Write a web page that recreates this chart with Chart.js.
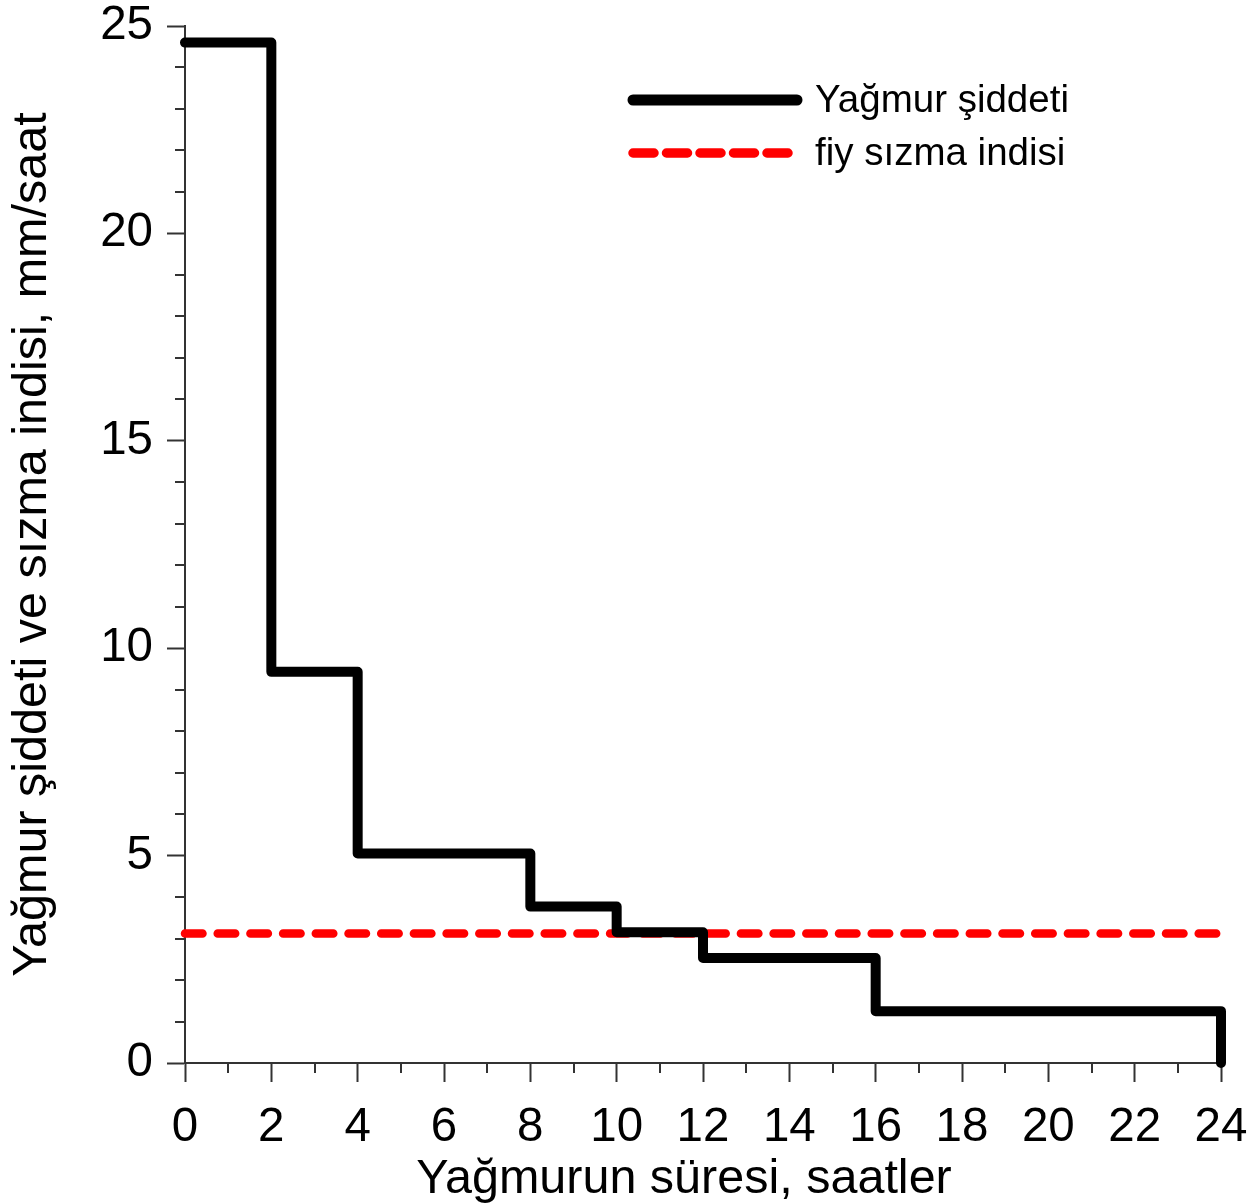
<!DOCTYPE html>
<html>
<head>
<meta charset="utf-8">
<script src="https://cdn.jsdelivr.net/npm/chart.js@4.4.1/dist/chart.umd.min.js"></script>
<style>
html,body{margin:0;padding:0;background:#fff;}
#wrap{width:1259px;height:1204px;position:relative;}
canvas{display:block;}
</style>
</head>
<body>
<div id="wrap"><canvas id="c" width="1259" height="1204"></canvas></div>
<script>
// ---- data ----
const hourStarts = [0, 2, 4, 8, 10, 12, 16, 24];
const rainIntensity = [24.6, 9.43, 5.05, 3.77, 3.15, 2.53, 1.25, 0];
const phiHours = [0, 24];
const phiIndex = [3.12, 3.12];
const seriesLabels = ['Yağmur şiddeti', 'fiy sızma indisi'];
const xAxisTitle = 'Yağmurun süresi, saatler';
const yAxisTitle = 'Yağmur şiddeti ve sızma indisi, mm/saat';
const xRange = [0, 24];
const yRange = [0, 25];
const xMajorStep = 2, xMinorStep = 1;
const yMajorStep = 5, yMinorStep = 1;

// ---- styling ----
const FONT = "'Liberation Sans', Arial, sans-serif";
const AXIS = '#333333';

const rainPts = hourStarts.map((x, i) => ({x, y: rainIntensity[i]}));
const phiPts = phiHours.map((x, i) => ({x, y: phiIndex[i]}));

const minorTicks = {
  id: 'minorTicks',
  afterDraw(chart) {
    const ctx = chart.ctx;
    const xs = chart.scales.x, ys = chart.scales.y;
    ctx.save();
    ctx.strokeStyle = AXIS;
    ctx.lineWidth = 2;
    for (let v = xs.min; v <= xs.max + 1e-9; v += xMinorStep) {
      if (Math.abs(v % xMajorStep) < 1e-9) continue;
      const px = Math.round(xs.getPixelForValue(v));
      ctx.beginPath(); ctx.moveTo(px, xs.top); ctx.lineTo(px, xs.top + 10); ctx.stroke();
    }
    for (let v = ys.min; v <= ys.max + 1e-9; v += yMinorStep) {
      if (Math.abs(v % yMajorStep) < 1e-9) continue;
      const py = Math.round(ys.getPixelForValue(v));
      ctx.beginPath(); ctx.moveTo(ys.right, py); ctx.lineTo(ys.right - 10, py); ctx.stroke();
    }
    // x-axis title, centred slightly left of the plot centre as in the reference
    ctx.fillStyle = '#000';
    ctx.font = '48.5px ' + FONT;
    ctx.textAlign = 'center';
    ctx.textBaseline = 'middle';
    ctx.fillText(xAxisTitle, (xs.left + xs.right) / 2 - 19, xs.bottom - 24);
    ctx.restore();
  }
};

const lineLegend = {
  id: 'lineLegend',
  afterDraw(chart) {
    const ctx = chart.ctx;
    const x0 = 633, x1 = 797, tx = 815, y0 = 100, dy = 53;
    ctx.save();
    chart.data.datasets.forEach((ds, i) => {
      const y = y0 + i * dy;
      ctx.strokeStyle = ds.borderColor;
      ctx.lineWidth = ds.borderWidth + 1;
      ctx.lineCap = 'round';
      ctx.setLineDash(ds.legendDash || []);
      ctx.beginPath(); ctx.moveTo(x0, y); ctx.lineTo(ds.legendDash ? x1 - 4 : x1, y); ctx.stroke();
      ctx.setLineDash([]);
      ctx.fillStyle = '#000';
      ctx.font = '38.5px ' + FONT;
      ctx.textBaseline = 'middle';
      ctx.textAlign = 'left';
      ctx.fillText(ds.label, tx, y + 1.5);
    });
    ctx.restore();
  }
};

new Chart(document.getElementById('c'), {
  type: 'line',
  data: {
    datasets: [
      {
        label: seriesLabels[0],
        data: rainPts,
        stepped: 'before',
        borderColor: '#000000',
        borderWidth: 10,
        borderJoinStyle: 'round',
        borderCapStyle: 'round',
        pointRadius: 0,
        fill: false,
        clip: 12
      },
      {
        label: seriesLabels[1],
        data: phiPts,
        borderColor: '#ff0000',
        borderWidth: 8.5,
        borderDash: [17.5, 15.2],
        legendDash: [21, 12.5],
        borderCapStyle: 'round',
        pointRadius: 0,
        fill: false,
        clip: 12
      }
    ]
  },
  options: {
    responsive: false,
    animation: false,
    devicePixelRatio: 1,
    layout: { padding: { top: 26, right: 38, left: 0, bottom: 0 } },
    plugins: { legend: { display: false }, tooltip: { enabled: false } },
    scales: {
      x: {
        type: 'linear',
        min: xRange[0], max: xRange[1],
        afterFit(s) { s.height = 141; s.paddingRight = 0; s.paddingLeft = 0; },
        grid: { drawOnChartArea: false, drawTicks: true, tickLength: 19, tickColor: AXIS, tickWidth: 2 },
        border: { display: true, color: AXIS, width: 2 },
        ticks: {
          stepSize: xMajorStep, autoSkip: false, maxRotation: 0, padding: 22,
          color: '#000', font: { family: FONT, size: 47.5, lineHeight: 1 }
        },
        title: { display: false, text: xAxisTitle }
      },
      y: {
        type: 'linear',
        min: yRange[0], max: yRange[1],
        afterFit(s) { s.width = 185; s.paddingTop = 0; s.paddingBottom = 0; },
        grid: { drawOnChartArea: false, drawTicks: true, tickLength: 18, tickColor: AXIS, tickWidth: 2 },
        border: { display: true, color: AXIS, width: 2 },
        ticks: {
          stepSize: yMajorStep, padding: 14,
          color: '#000', font: { family: FONT, size: 47.5, lineHeight: 1 }
        },
        title: {
          display: true, text: yAxisTitle, color: '#000',
          font: { family: FONT, size: 48.5, lineHeight: 1 },
          padding: { top: 8, bottom: 0 }
        }
      }
    }
  },
  plugins: [minorTicks, lineLegend]
});
</script>
</body>
</html>
